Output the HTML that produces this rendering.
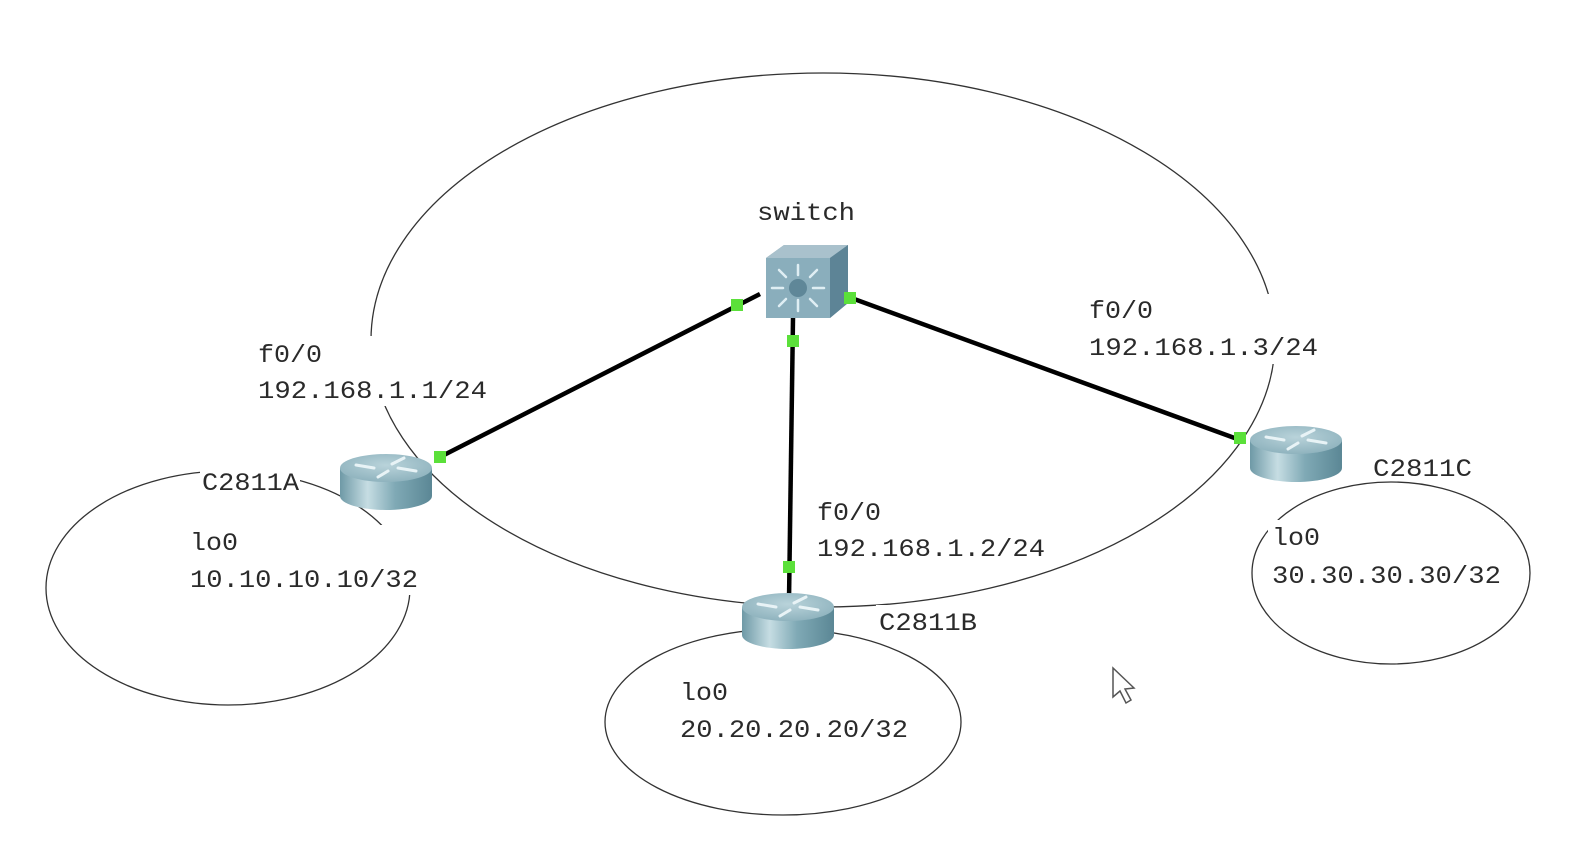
<!DOCTYPE html>
<html><head><meta charset="utf-8">
<style>
html,body{margin:0;padding:0;background:#fff;}
svg{display:block;}
text{font-family:"Liberation Mono","Noto Serif CJK SC",monospace;font-size:25px;fill:#2a2a2a;}
</style></head>
<body>
<svg width="1588" height="848" viewBox="0 0 1588 848" xmlns="http://www.w3.org/2000/svg">
<defs>
<linearGradient id="rb" x1="0" x2="1" y1="0" y2="0">
<stop offset="0" stop-color="#6e99a6"/><stop offset="0.3" stop-color="#c6dde3"/><stop offset="0.6" stop-color="#7fa9b5"/><stop offset="1" stop-color="#5b8795"/>
</linearGradient>
<radialGradient id="rt" cx="0.5" cy="0.4" r="0.6">
<stop offset="0" stop-color="#b9d3da"/><stop offset="1" stop-color="#8fb3be"/>
</radialGradient>
<g id="router">
<path d="M-46,0 L-46,28 A46,14 0 0 0 46,28 L46,0 Z" fill="url(#rb)"/>
<ellipse cx="0" cy="0" rx="46" ry="14" fill="url(#rt)"/>
<g stroke="#e8f3f6" stroke-width="3" stroke-linecap="round" fill="none">
<path d="M-30,-3 L-12,0"/><path d="M12,0 L30,3"/><path d="M-8,9 L2,3"/><path d="M6,-4 L18,-10"/>
</g>
</g>
</defs>

<!-- big ellipse -->
<ellipse cx="823" cy="340" rx="452" ry="267" fill="none" stroke="#333" stroke-width="1.3"/>
<!-- small ellipses -->
<ellipse cx="228" cy="588" rx="182" ry="117" fill="none" stroke="#333" stroke-width="1.3"/>
<ellipse cx="783" cy="722" rx="178" ry="93" fill="none" stroke="#333" stroke-width="1.3"/>
<ellipse cx="1391" cy="573" rx="139" ry="91" fill="none" stroke="#333" stroke-width="1.3"/>

<!-- label backgrounds -->
<g fill="#fff">
<rect x="252" y="336" width="238" height="70"/>
<rect x="750" y="195" width="112" height="34"/>
<rect x="184" y="525" width="228" height="70"/>
<rect x="812" y="494" width="236" height="70"/>
<rect x="674" y="675" width="236" height="70"/>
<rect x="1084" y="294" width="236" height="70"/>
<rect x="1268" y="520" width="236" height="70"/>
<rect x="200" y="466" width="100" height="30"/>
<rect x="876" y="605" width="102" height="30"/>
</g>

<!-- links -->
<g stroke="#000" stroke-width="4.5">
<line x1="760" y1="294" x2="440" y2="457"/>
<line x1="793" y1="318" x2="789" y2="600"/>
<line x1="835" y1="292" x2="1240" y2="440"/>
</g>

<!-- switch -->
<polygon points="766,258 784,245 848,245 848,303 830,318 766,318" fill="#7fa0b0"/>
<polygon points="766,258 784,245 848,245 830,258" fill="#a9c1cc"/>
<polygon points="830,258 848,245 848,303 830,318" fill="#5d8496"/>
<rect x="766" y="258" width="64" height="60" fill="#8aaebc"/>
<g stroke="#dfeef3" stroke-width="2.5" stroke-linecap="round">
<line x1="798" y1="265" x2="798" y2="275"/><line x1="798" y1="300" x2="798" y2="311"/>
<line x1="772" y1="288" x2="783" y2="288"/><line x1="813" y1="288" x2="824" y2="288"/>
<line x1="779" y1="270" x2="786" y2="277"/><line x1="810" y1="299" x2="817" y2="306"/>
<line x1="817" y1="270" x2="810" y2="277"/><line x1="786" y1="299" x2="779" y2="306"/>
</g>
<circle cx="798" cy="288" r="9" fill="#5f8798"/>

<!-- routers -->
<use href="#router" x="386" y="468"/>
<use href="#router" x="788" y="607"/>
<use href="#router" x="1296" y="440"/>

<!-- port markers -->
<g fill="#5be03a">
<rect x="731" y="299" width="12" height="12"/>
<rect x="434" y="451" width="12" height="12"/>
<rect x="787" y="335" width="12" height="12"/>
<rect x="783" y="561" width="12" height="12"/>
<rect x="844" y="292" width="12" height="12"/>
<rect x="1234" y="432" width="12" height="12"/>
</g>

<!-- labels -->
<text x="757" y="220" textLength="98" lengthAdjust="spacingAndGlyphs">switch</text>
<text x="258" y="362" textLength="64" lengthAdjust="spacingAndGlyphs">f0/0</text>
<text x="258" y="398" textLength="229" lengthAdjust="spacingAndGlyphs">192.168.1.1/24</text>
<text x="202" y="490" textLength="97" lengthAdjust="spacingAndGlyphs">C2811A</text>
<text x="190" y="550" textLength="48" lengthAdjust="spacingAndGlyphs">lo0</text>
<text x="190" y="587" textLength="228" lengthAdjust="spacingAndGlyphs">10.10.10.10/32</text>
<text x="817" y="520" textLength="64" lengthAdjust="spacingAndGlyphs">f0/0</text>
<text x="817" y="556" textLength="228" lengthAdjust="spacingAndGlyphs">192.168.1.2/24</text>
<text x="879" y="630" textLength="98" lengthAdjust="spacingAndGlyphs">C2811B</text>
<text x="680" y="700" textLength="48" lengthAdjust="spacingAndGlyphs">lo0</text>
<text x="680" y="737" textLength="228" lengthAdjust="spacingAndGlyphs">20.20.20.20/32</text>
<text x="1089" y="318" textLength="64" lengthAdjust="spacingAndGlyphs">f0/0</text>
<text x="1089" y="355" textLength="229" lengthAdjust="spacingAndGlyphs">192.168.1.3/24</text>
<text x="1373" y="476" textLength="99" lengthAdjust="spacingAndGlyphs">C2811C</text>
<text x="1272" y="545" textLength="48" lengthAdjust="spacingAndGlyphs">lo0</text>
<text x="1272" y="583" textLength="229" lengthAdjust="spacingAndGlyphs">30.30.30.30/32</text>

<!-- cursor -->
<path d="M1113,668 L1113,697 L1120,691 L1126,703 L1131,700 L1125,689 L1134,688 Z" fill="#fff" stroke="#555" stroke-width="1.5"/>
</svg>
</body></html>
